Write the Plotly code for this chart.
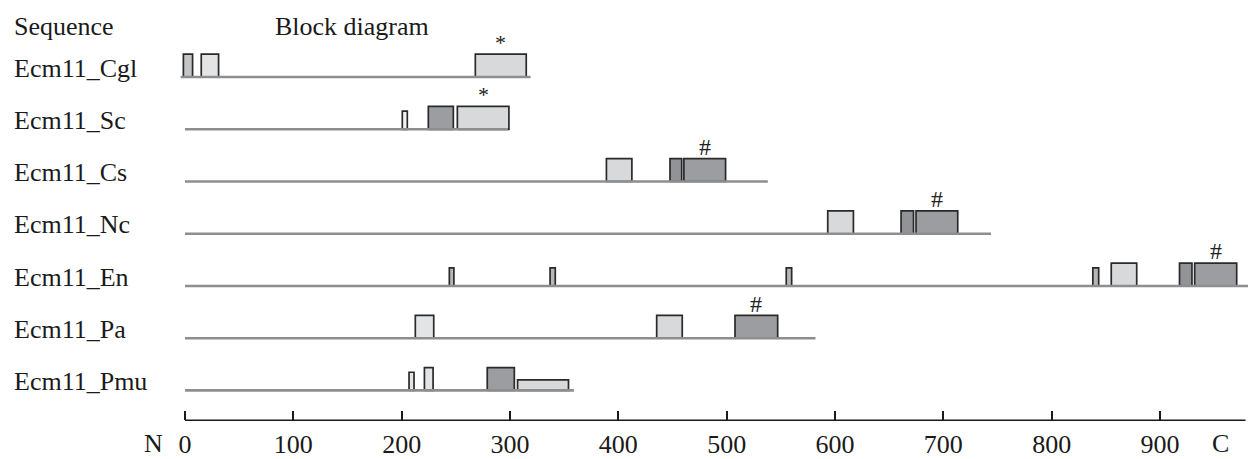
import plotly.graph_objects as go

# ---------------- data ----------------
sequences = ["Ecm11_Cgl", "Ecm11_Sc", "Ecm11_Cs", "Ecm11_Nc", "Ecm11_En", "Ecm11_Pa", "Ecm11_Pmu"]
seq_start = [-4, 0, 0, 0, 0, 0, 0]
seq_end = [319, 298, 538, 744, 995, 582, 359]

block_row = [0, 0, 0,
             1, 1, 1,
             2, 2, 2,
             3, 3, 3,
             4, 4, 4, 4, 4, 4, 4,
             5, 5, 5,
             6, 6, 6, 6]
block_start = [-1.5, 15, 268,
               200.6, 224.6, 251.4,
               389, 447.7, 460.5,
               593.3, 661, 674.8,
               244, 337, 555, 838, 855, 918, 932,
               212.6, 435.4, 507.7,
               206.8, 221, 279, 307]
block_end = [7, 31, 315,
             205.2, 247.7, 299,
             412.5, 458.5, 499,
             617, 672.5, 713.3,
             248.2, 341.8, 560, 843.4, 878.5, 929.5, 970.8,
             229.6, 459, 547.1,
             211.4, 229, 304, 354]
block_kind = ["mid", "pale", "light",
              "white", "dark", "light",
              "light", "darker", "dark",
              "light", "darker", "dark",
              "grey", "grey", "grey", "grey", "light", "darker", "dark",
              "pale", "light", "dark",
              "pale", "pale", "dark", "light"]
block_size = ["full", "full", "full",
              "small", "full", "full",
              "full", "full", "full",
              "full", "full", "full",
              "small", "small", "small", "small", "full", "full", "full",
              "full", "full", "full",
              "small", "full", "full", "half"]
block_mark = ["", "", "*",
              "", "", "*",
              "", "", "#",
              "", "", "#",
              "", "", "", "", "", "", "#",
              "", "", "#",
              "", "", "", ""]

tick_values = [0, 100, 200, 300, 400, 500, 600, 700, 800, 900]
axis_end = 979

# ---------------- styling / geometry ----------------
PAGE = 8                  # default page margin around the figure
W, H = 1256 - PAGE, 459 - PAGE
PX0 = 185.0 - PAGE        # pixel of position 0 (figure coords)
PXU = 975.0 / 900.0       # pixels per residue
X0 = -PX0 / PXU
X1 = X0 + W / PXU
ROW_TOP = 78.3 - PAGE     # pixel of first baseline
ROW_PX = 53.17            # pixel distance between rows
Y_LO = -ROW_TOP / ROW_PX
Y_HI = (H - ROW_TOP) / ROW_PX
AXIS_PX = 427.7 - PAGE


def py(px):
    """reference-pixel y -> paper fraction"""
    return 1 - (px - PAGE) / H


FONT = "Liberation Serif, Times New Roman, serif"
fills = {"light": "#d8d9db", "pale": "#e3e4e6", "mid": "#c3c4c6", "grey": "#b6b7b9",
         "white": "#f3f3f3", "dark": "#9c9da0", "darker": "#929396"}
heights = {"full": 23.3, "small": 18.5, "half": 10.7}

fig = go.Figure()

for r, s, e, k, sz in zip(block_row, block_start, block_end, block_kind, block_size):
    h = heights[sz] / ROW_PX
    fig.add_trace(go.Scatter(
        x=[s, s, e, e, s], y=[r, r - h, r - h, r, r],
        mode="lines", fill="toself", fillcolor=fills[k],
        line=dict(color="#2a2a2a", width=1.7),
        hoverinfo="skip", showlegend=False))

for i, (s, e) in enumerate(zip(seq_start, seq_end)):
    fig.add_trace(go.Scatter(
        x=[s, e], y=[i, i], mode="lines",
        line=dict(color="#8e8e8e", width=2.6),
        hoverinfo="skip", showlegend=False))

annotations = []
for r, s, e, sz, m in zip(block_row, block_start, block_end, block_size, block_mark):
    if m:
        annotations.append(dict(
            x=(s + e) / 2, y=r - (heights[sz] + 12) / ROW_PX, xref="x", yref="y",
            text=m, showarrow=False, xanchor="center", yanchor="middle",
            font=dict(family=FONT, size=24 if m == "#" else 22, color="#222222")))

for i, name in enumerate(sequences):
    annotations.append(dict(
        x=(11.7 - PAGE) / W, y=i - 9 / ROW_PX, xref="paper", yref="y", text=name,
        showarrow=False, xanchor="left", yanchor="middle",
        font=dict(family=FONT, size=26, color="#1a1a1a")))

for txt, px in [("Sequence", 11.7), ("Block diagram", 273)]:
    annotations.append(dict(
        x=(px - PAGE) / W, y=py(27), xref="paper", yref="paper", text=txt,
        showarrow=False, xanchor="left", yanchor="middle",
        font=dict(family=FONT, size=26, color="#1a1a1a")))

for txt, xv in [("N", -29.5), ("C", 956)]:
    annotations.append(dict(
        x=xv, y=py(451), xref="x", yref="paper", text=txt,
        showarrow=False, xanchor="center", yanchor="middle",
        font=dict(family=FONT, size=26, color="#1a1a1a")))

fig.update_layout(
    width=W, height=H,
    margin=dict(l=0, r=0, t=0, b=0),
    paper_bgcolor="white", plot_bgcolor="white",
    showlegend=False,
    annotations=annotations,
    shapes=[dict(type="line", xref="x", yref="paper", x0=0, x1=axis_end,
                 y0=1 - AXIS_PX / H, y1=1 - AXIS_PX / H,
                 line=dict(color="#1a1a1a", width=1.6))],
    xaxis=dict(range=[X0, X1], domain=[0, 1], showgrid=False, zeroline=False,
               showline=False, anchor="free", position=1 - AXIS_PX / H,
               tickvals=tick_values, ticktext=[str(v) for v in tick_values],
               ticks="inside", ticklen=9, tickwidth=1.5, tickcolor="#1a1a1a",
               ticklabelstandoff=6,
               tickfont=dict(family=FONT, size=26, color="#1a1a1a")),
    yaxis=dict(range=[Y_HI, Y_LO], visible=False, showgrid=False, zeroline=False),
)

fig.write_html("out.html")
